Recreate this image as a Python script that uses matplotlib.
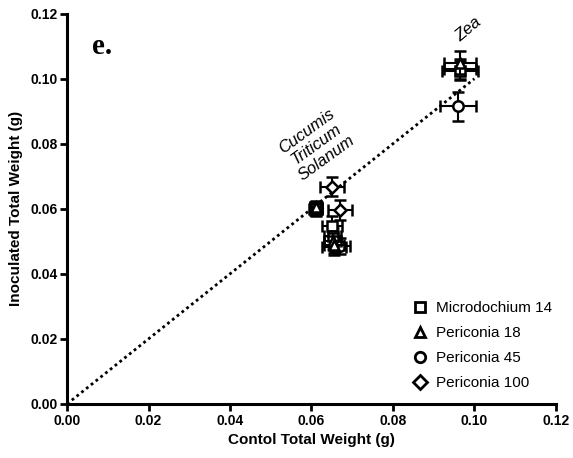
import matplotlib
matplotlib.use("Agg")
import matplotlib.pyplot as plt
from matplotlib.lines import Line2D

plt.rcParams['font.family'] = ['Liberation Sans Narrow', 'Liberation Sans', 'DejaVu Sans']

# Order of plants in every series: Cucumis, Triticum, Solanum, Zea
series_names = ["Microdochium 14", "Periconia 18", "Periconia 45", "Periconia 100"]
markers = ["s", "^", "o", "D"]

m14_x = [0.0612, 0.0650, 0.0652, 0.0965]
m14_y = [0.0598, 0.0548, 0.0515, 0.1025]
m14_xerr = [0.0015, 0.0025, 0.0020, 0.0045]
m14_yerr = [0.0020, 0.0030, 0.0025, 0.0030]

p18_x = [0.0612, 0.0652, 0.0655, 0.0965]
p18_y = [0.0605, 0.0500, 0.0490, 0.1050]
p18_xerr = [0.0015, 0.0020, 0.0025, 0.0040]
p18_yerr = [0.0020, 0.0025, 0.0025, 0.0035]

p45_x = [0.0610, 0.0655, 0.0670, 0.0960]
p45_y = [0.0600, 0.0484, 0.0486, 0.0915]
p45_xerr = [0.0015, 0.0030, 0.0025, 0.0045]
p45_yerr = [0.0020, 0.0025, 0.0025, 0.0045]

p100_x = [0.0651, 0.0670, 0.0612, 0.0965]
p100_y = [0.0668, 0.0597, 0.0602, 0.1030]
p100_xerr = [0.0030, 0.0030, 0.0015, 0.0040]
p100_yerr = [0.0030, 0.0030, 0.0020, 0.0030]

xs = [m14_x, p18_x, p45_x, p100_x]
ys = [m14_y, p18_y, p45_y, p100_y]
xerrs = [m14_xerr, p18_xerr, p45_xerr, p100_xerr]
yerrs = [m14_yerr, p18_yerr, p45_yerr, p100_yerr]

ticks = [0.00, 0.02, 0.04, 0.06, 0.08, 0.10, 0.12]
line_end = 0.10

fig = plt.figure(figsize=(5.73, 4.58), dpi=100)
ax = fig.add_axes([0.117, 0.118, 0.853, 0.852])

# 1:1 reference line
ax.plot([0, line_end], [0, line_end], linestyle=(0, (1, 1.2)), color="black",
        linewidth=2.0, zorder=1)

sizes = [7, 7.5, 7.5, 6]
orders = [4, 5, 3, 2]
for name, mk, x, y, xe, ye, ms, zo in zip(series_names, markers, xs, ys,
                                          xerrs, yerrs, sizes, orders):
    ax.errorbar(x, y, xerr=xe, yerr=ye, fmt=mk, markersize=ms,
                markerfacecolor="white", markeredgecolor="black",
                markeredgewidth=1.8, ecolor="black", elinewidth=1.5,
                capsize=4, capthick=1.5, zorder=zo)

ax.set_xlim(0, 0.12)
ax.set_ylim(0, 0.12)
ax.set_xticks(ticks)
ax.set_yticks(ticks)
ax.set_xticklabels([f"{t:.2f}" for t in ticks])
ax.set_yticklabels([f"{t:.2f}" for t in ticks])
for lbl in ax.get_xticklabels() + ax.get_yticklabels():
    lbl.set_fontweight("bold")
    lbl.set_fontsize(10)

ax.spines["top"].set_visible(False)
ax.spines["right"].set_visible(False)
for s in ("left", "bottom"):
    ax.spines[s].set_linewidth(2.2)
ax.tick_params(width=2, length=5, direction="out", pad=2)

ax.set_xlabel("Contol Total Weight (g)", fontsize=11, fontweight="bold", labelpad=4)
ax.set_ylabel("Inoculated Total Weight (g)", fontsize=11, fontweight="bold", labelpad=5)

ax.text(0.0612, 0.0798, "Cucumis\nTriticum\nSolanum", rotation=36,
        rotation_mode="anchor", ha="center", va="center", fontsize=12,
        fontstyle="italic", linespacing=1.15, family=["Liberation Sans", "DejaVu Sans"])
ax.text(0.0985, 0.1152, "Zea", rotation=40, rotation_mode="anchor",
        ha="center", va="center", fontsize=12, fontstyle="italic",
        family=["Liberation Sans", "DejaVu Sans"])

ax.text(0.0062, 0.1098, "e.", fontsize=21, fontweight="bold",
        family=["Liberation Serif", "DejaVu Serif"], ha="left", va="center")

handles = [Line2D([], [], linestyle="none", marker=mk, markersize=7.5,
                  markerfacecolor="white", markeredgecolor="black",
                  markeredgewidth=2.0) for mk in markers]
ax.legend(handles, series_names, loc="lower right", bbox_to_anchor=(1.02, 0.0),
          frameon=False, fontsize=11, handletextpad=0.45, labelspacing=0.72,
          handlelength=1.2)

fig.savefig("out.png", dpi=100)
